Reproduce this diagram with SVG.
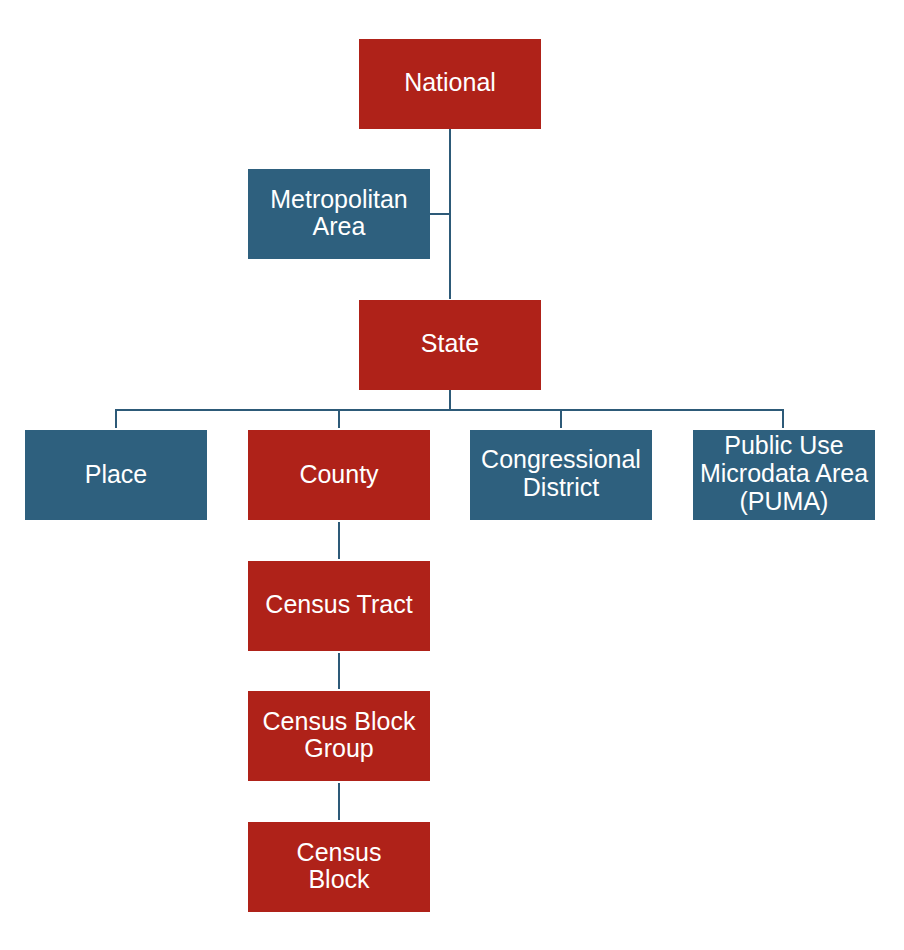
<svg xmlns="http://www.w3.org/2000/svg" width="904" height="950" viewBox="0 0 904 950">
<style>
.red{fill:#AF2219}
.blue{fill:#2E607E}
.t{font-family:"Liberation Sans",Arial,sans-serif;font-size:25px;fill:#ffffff;text-anchor:middle}
.c{stroke:#2D5A78;stroke-width:2;fill:none}
</style>
<rect width="904" height="950" fill="#ffffff"/>
<g id="connectors">
<path class="c" d="M450,129 V299"/>
<path class="c" d="M430,214 H450"/>
<path class="c" d="M450,390 V410"/>
<path class="c" d="M116,428 V410 H783 V428"/>
<path class="c" d="M339,410 V428"/>
<path class="c" d="M561,410 V428"/>
<path class="c" d="M339,522 V559"/>
<path class="c" d="M339,653 V689"/>
<path class="c" d="M339,783 V820"/>
</g>
<g id="national"><rect class="red" x="359" y="39" width="182" height="90"/><text class="t" x="450" y="91">National</text></g>
<g id="metro"><rect class="blue" x="248" y="169" width="182" height="90"/><text class="t" x="339" y="208">Metropolitan</text><text class="t" x="339" y="235">Area</text></g>
<g id="state"><rect class="red" x="359" y="300" width="182" height="90"/><text class="t" x="450" y="352">State</text></g>
<g id="place"><rect class="blue" x="25" y="430" width="182" height="90"/><text class="t" x="116" y="483">Place</text></g>
<g id="county"><rect class="red" x="248" y="430" width="182" height="90"/><text class="t" x="339" y="483">County</text></g>
<g id="congressional"><rect class="blue" x="470" y="430" width="182" height="90"/><text class="t" x="561" y="468">Congressional</text><text class="t" x="561" y="496">District</text></g>
<g id="puma"><rect class="blue" x="693" y="430" width="182" height="90"/><text class="t" x="784" y="454">Public Use</text><text class="t" x="784" y="482">Microdata Area</text><text class="t" x="784" y="510">(PUMA)</text></g>
<g id="tract"><rect class="red" x="248" y="561" width="182" height="90"/><text class="t" x="339" y="613">Census Tract</text></g>
<g id="blockgroup"><rect class="red" x="248" y="691" width="182" height="90"/><text class="t" x="339" y="730">Census Block</text><text class="t" x="339" y="757">Group</text></g>
<g id="block"><rect class="red" x="248" y="822" width="182" height="90"/><text class="t" x="339" y="861">Census</text><text class="t" x="339" y="888">Block</text></g>
</svg>
